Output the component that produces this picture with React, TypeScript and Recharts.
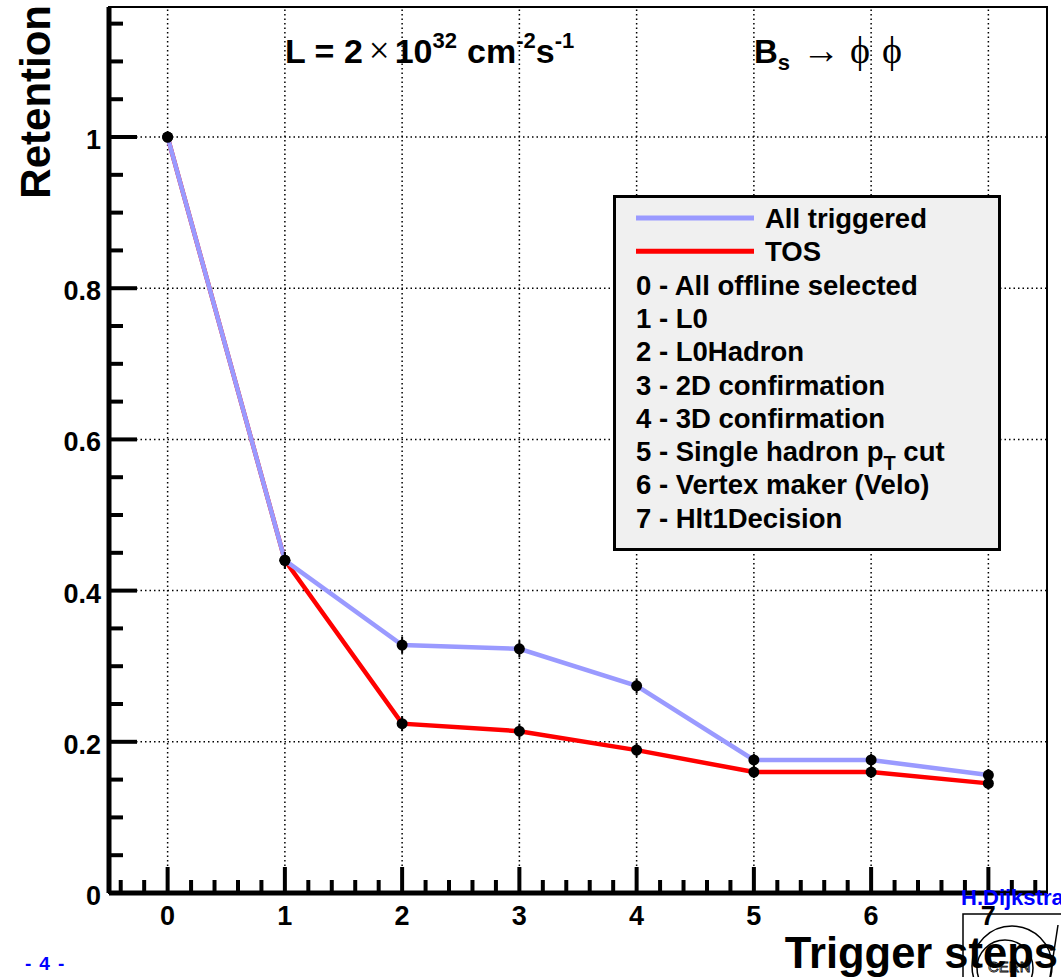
import React from 'react';
import {
  ComposedChart,
  Line,
  Scatter,
  XAxis,
  YAxis,
  ReferenceLine,
  ReferenceArea,
  ErrorBar,
  Legend,
  Label,
} from 'recharts';

// trigger step index and retention values
const steps = [0, 1, 2, 3, 4, 5, 6, 7];
const allTriggered = [1.0, 0.44, 0.328, 0.323, 0.274, 0.176, 0.176, 0.156];
const tosValues = [1.0, 0.44, 0.224, 0.214, 0.189, 0.16, 0.16, 0.145];
const allErrors = [0, 0.011, 0.011, 0.011, 0.01, 0.008, 0.008, 0.008];
const tosErrors = [0, 0.011, 0.01, 0.01, 0.009, 0.008, 0.008, 0.008];

const seriesNames = ['All triggered', 'TOS'];

const stepNames = [
  'All offline selected',
  'L0',
  'L0Hadron',
  '2D confirmation',
  '3D confirmation',
  'Single hadron p_T cut',
  'Vertex maker (Velo)',
  'Hlt1Decision',
];

const yGridValues = [0.2, 0.4, 0.6, 0.8, 1];
const xMinorTicks = Array.from({ length: 40 }, (_, i) => Math.round((i - 2) * 2) / 10);
const yMinorTicks = Array.from({ length: 24 }, (_, i) => Math.round(i * 5) / 100);

const BLUE = '#9a9aff';
const RED = '#ff0000';
const FONT = '"Liberation Sans", Arial, Helvetica, sans-serif';
const SERIF = '"Liberation Serif", "DejaVu Serif", serif';

const data = steps.map((s, i) => ({
  step: s,
  all: allTriggered[i],
  tos: tosValues[i],
  allErr: allErrors[i],
  tosErr: tosErrors[i],
}));

const isMajor = (v: number, step: number) => Math.abs(v / step - Math.round(v / step)) < 1e-6;

const XTick = (props: any) => {
  const { x, y, payload } = props;
  const major = isMajor(payload.value, 1);
  return (
    <g>
      <line x1={x} x2={x} y1={y} y2={y - (major ? 26 : 13)} stroke="#000" strokeWidth={4} />
      {major && (
        <text x={x} y={y + 32} textAnchor="middle" fontFamily={FONT} fontWeight="bold" fontSize={27} fill="#000">
          {Math.round(payload.value)}
        </text>
      )}
    </g>
  );
};

const YTick = (props: any) => {
  const { x, y, payload } = props;
  const major = isMajor(payload.value, 0.2);
  return (
    <g>
      <line x1={x} x2={x + (major ? 28 : 14)} y1={y} y2={y} stroke="#000" strokeWidth={4} />
      {major && (
        <text x={x - 8} y={y + 12} textAnchor="end" fontFamily={FONT} fontWeight="bold" fontSize={27} fill="#000">
          {String(Math.round(payload.value * 10) / 10)}
        </text>
      )}
    </g>
  );
};

const Dot = (props: any) => <circle cx={props.cx} cy={props.cy} r={5.5} fill="#000" />;

const renderStepName = (name: string) => {
  if (!name.includes('_T')) return name;
  const [a, b] = name.split('_T');
  return (
    <>
      {a}
      <tspan dy={9} fontSize={20}>T</tspan>
      <tspan dy={-9}>{b}</tspan>
    </>
  );
};

const renderLegend = (props: any) => {
  const entries = seriesNames
    .map((n) => (props.payload || []).find((e: any) => e.value === n))
    .filter(Boolean);
  const row = 33.3;
  return (
    <svg width={388} height={356} style={{ display: 'block' }}>
      <rect x={1.5} y={1.5} width={385} height={353} fill="#f0f0f0" stroke="#000" strokeWidth={3} />
      {entries.map((e: any, i: number) => (
        <g key={e.value}>
          <line x1={23} x2={141} y1={23 + i * row} y2={23 + i * row} stroke={e.color} strokeWidth={5} />
          <text x={152} y={23 + i * row + 10} fontFamily={FONT} fontWeight="bold" fontSize={27.5} fill="#000">
            {e.value}
          </text>
        </g>
      ))}
      {stepNames.map((n, i) => (
        <text key={n} x={23} y={23 + (i + 2) * row + 10} fontFamily={FONT} fontWeight="bold" fontSize={27.5} fill="#000">
          {`${i} - `}
          {renderStepName(n)}
        </text>
      ))}
    </svg>
  );
};

const YTitle = () => (
  <text
    x={50}
    y={5}
    transform="rotate(-90, 50, 5)"
    textAnchor="end"
    fontFamily={FONT}
    fontWeight="bold"
    fontSize={42}
    fill="#000"
  >
    Retention
  </text>
);

const XTitle = () => (
  <text x={1058} y={968} textAnchor="end" fontFamily={FONT} fontWeight="bold" fontSize={43.5} fill="#000">
    Trigger steps
  </text>
);

export default function App() {
  return (
    <div style={{ position: 'absolute', left: 0, top: 0, width: 1061, height: 977, background: '#fff', overflow: 'hidden' }}>
      <ComposedChart width={1061} height={977} data={data} margin={{ top: 7, right: 14, bottom: 0, left: 0 }}>
        {steps.map((s) => (
          <ReferenceLine key={`gx${s}`} x={s} stroke="#000" strokeWidth={1.5} strokeDasharray="1.5 3" />
        ))}
        {yGridValues.map((v) => (
          <ReferenceLine key={`gy${v}`} y={v} stroke="#000" strokeWidth={1.5} strokeDasharray="1.5 3" />
        ))}
        <ReferenceArea x1={-0.5} x2={7.5} y1={0} y2={1.172} fill="none" stroke="#000" strokeWidth={2} />
        <XAxis
          dataKey="step"
          type="number"
          domain={[-0.5, 7.5]}
          ticks={xMinorTicks}
          interval={0}
          tick={<XTick />}
          tickLine={false}
          tickSize={0}
          tickMargin={0}
          height={84}
          axisLine={{ stroke: '#000', strokeWidth: 5 }}
          allowDataOverflow
        >
          <Label content={<XTitle />} />
        </XAxis>
        <YAxis
          type="number"
          domain={[0, 1.172]}
          ticks={yMinorTicks}
          interval={0}
          tick={<YTick />}
          tickLine={false}
          tickSize={0}
          tickMargin={0}
          width={109}
          axisLine={{ stroke: '#000', strokeWidth: 5 }}
          allowDataOverflow
        >
          <Label content={<YTitle />} />
        </YAxis>
        <Line
          type="linear"
          dataKey="tos"
          name="TOS"
          stroke={RED}
          strokeWidth={4.5}
          dot={false}
          activeDot={false}
          isAnimationActive={false}
        />
        <Line
          type="linear"
          dataKey="all"
          name="All triggered"
          stroke={BLUE}
          strokeWidth={4.5}
          dot={false}
          activeDot={false}
          isAnimationActive={false}
        />
        <Scatter dataKey="tos" name="tos points" shape={<Dot />} legendType="none" isAnimationActive={false}>
          <ErrorBar dataKey="tosErr" direction="y" width={0} stroke="#000" strokeWidth={2} />
        </Scatter>
        <Scatter dataKey="all" name="all points" shape={<Dot />} legendType="none" isAnimationActive={false}>
          <ErrorBar dataKey="allErr" direction="y" width={0} stroke="#000" strokeWidth={2} />
        </Scatter>
        <Legend
          layout="vertical"
          align="center"
          verticalAlign="middle"
          content={renderLegend}
          wrapperStyle={{ left: 613, top: 195, width: 388, height: 356 }}
        />
      </ComposedChart>
      <svg
        width={1061}
        height={977}
        style={{ position: 'absolute', left: 0, top: 0, pointerEvents: 'none' }}
      >
        <text x={285} y={63} fontFamily={FONT} fontWeight="bold" fontSize={34} fill="#000">
          L = 2
          <tspan fontFamily={SERIF} fontWeight="normal" fontSize={37} dx={6}>×</tspan>
          <tspan dx={5}>10</tspan>
          <tspan dy={-15} fontSize={22}>32</tspan>
          <tspan dy={15} dx={10}>cm</tspan>
          <tspan dy={-15} fontSize={22}>-2</tspan>
          <tspan dy={15}>s</tspan>
          <tspan dy={-15} fontSize={22}>-1</tspan>
        </text>
        <text x={754} y={63} fontFamily={FONT} fontWeight="bold" fontSize={33} fill="#000">
          B
          <tspan dy={7} fontSize={22}>s</tspan>
          <tspan dy={-7} dx={12} fontFamily={SERIF} fontWeight="normal" fontSize={38}>→</tspan>
          <tspan dx={10} fontFamily={SERIF} fontWeight="normal" fontSize={38}>ϕ</tspan>
          <tspan dx={12} fontFamily={SERIF} fontWeight="normal" fontSize={38}>ϕ</tspan>
        </text>
        <text x={961} y={905} fontFamily={FONT} fontWeight="bold" fontSize={22} fill="#0000ff">
          H.Dijkstra
        </text>
        <text x={25} y={970} fontFamily={FONT} fontWeight="bold" fontSize={19} fill="#0000ff">
          -
          <tspan dx={8}>4</tspan>
          <tspan dx={8}>-</tspan>
        </text>
        <g fill="none" stroke="#000" strokeWidth={1.5}>
          <rect x={963} y={914} width={120} height={80} />
          <circle cx={1012} cy={966} r={40} />
          <circle cx={1005} cy={968} r={28} />
          <line x1={1058} y1={925} x2={1050} y2={977} />
        </g>
        <text x={988} y={972} fontFamily={FONT} fontSize={15} fill="none" stroke="#000" strokeWidth={0.8}>
          CERN
        </text>
      </svg>
    </div>
  );
}
